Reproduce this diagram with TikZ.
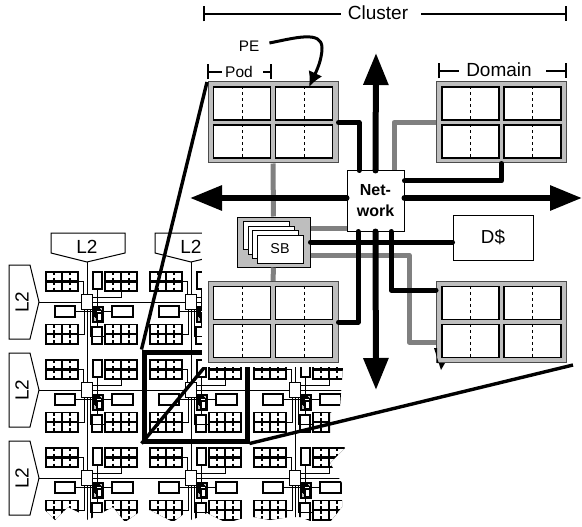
\documentclass[tikz,border=0pt]{standalone}
\usepackage{fontspec}
\setmainfont{Liberation Sans}
\usepackage{tikz}
\usetikzlibrary{
  arrows.meta,
  calc
}
\definecolor{panelgray}{RGB}{190,190,190}
\definecolor{linkgray}{RGB}{128,128,128}

% Small four-cell domain of the tiled chip view
\newcommand{\tiledomain}[3]{%
  \node[tiledom] (#1) at (#2,#3) {};
  \foreach \ox in {-7.9,7.9} \foreach \oy in {-4.9,4.9} {
    \fill[white] ($(#1)+(\ox-7,\oy-3.8)$) rectangle ($(#1)+(\ox+7,\oy+3.8)$);
    \draw[line width=1.3pt, dash pattern=on 2.5pt off 2.6pt on 2.7pt] ($(#1)+(\ox,\oy-3.8)$) -- ($(#1)+(\ox,\oy+3.8)$);
  }%
}

\begin{document}
\begin{tikzpicture}[
  x=1pt, y=-1pt,
  tiledom/.style={fill=black, minimum width=34pt, minimum height=21pt, inner sep=0pt},
  tilebox/.style={draw, fill=white, line width=1.1pt, inner sep=0pt},
  tilewire/.style={line width=1pt},
  l2shape/.style={draw, fill=white, line width=1pt},
  l2label/.style={font=\fontsize{19}{19}\selectfont, inner sep=0pt},
  domainbox/.style={draw=black!70, fill=panelgray, line width=1pt, minimum width=130pt, minimum height=81pt, inner sep=0pt},
  podbox/.style={draw, fill=white, line width=1.4pt, minimum width=57pt, minimum height=33pt, inner sep=0pt},
  netbox/.style={draw, fill=white, line width=1pt, minimum width=57pt, minimum height=60pt, align=center, inner sep=0pt,
    font=\fontsize{16}{21}\selectfont\bfseries},
  sbbox/.style={draw, fill=white, line width=1pt, minimum width=46pt, minimum height=28pt, inner sep=0pt,
    font=\fontsize{14.3}{15}\selectfont},
  graylink/.style={line width=5pt, linkgray, line join=round},
  blacklink/.style={line width=5pt, line cap=round, line join=round},
  bigarrow/.style={line width=6pt, -{Triangle[width=24pt, length=32pt]}},
  zoomline/.style={line width=3.4pt},
  dimline/.style={line width=2pt, {Bar[width=15pt]}-},
  dimlabel/.style={inner sep=0pt}
]
  \useasboundingbox (0,0) rectangle (582,527);

  % Tiled chip view, torn along its right and bottom sides
  \begin{scope}
    \clip (0,220) -- (345,220) -- (343,367) -- (340,407) -- (330,413) -- (330,433) -- (345,448) -- (330,463)
      -- (342,483) -- (342,507) -- (330,522) -- (313,522) -- (300,517) -- (290,517) -- (270,520) -- (253,517)
      -- (240,519) -- (227,523) -- (207,513) -- (192,520) -- (185,513) -- (173,522) -- (150,510) -- (138,513)
      -- (125,522) -- (113,507) -- (88,520) -- (80,513) -- (68,507) -- (55,520) -- (45,510) -- (42,520) -- (0,527) -- cycle;

    % L2 banks on the top and left
    \foreach \cx/\c in {87/a,191/b,295/c} {
      \coordinate (tip\c) at (\cx,262);
      \coordinate (foot\c) at (\cx,527);
      \draw[tilewire] (tip\c) -- (foot\c);
    }
    \foreach \ry/\r in {302/a,390/b,478/c} {
      \coordinate (tipl\r) at (39,\ry);
      \coordinate (end\r) at (346,\ry);
      \draw[tilewire] (tipl\r) -- (end\r);
      \draw[l2shape] (9,\ry-37) -- (30,\ry-37) -- (tipl\r) -- (30,\ry+37) -- (9,\ry+37) -- cycle;
      \node[l2label, rotate=90] (l2left\r) at (22,\ry) {L2};
    }
    \foreach \cx/\c in {87/a,191/b} {
      \draw[l2shape] (\cx-36,233) -- (\cx+38,233) -- (\cx+38,253) -- (tip\c) -- (\cx-36,253) -- cycle;
      \node[l2label] (l2top\c) at (\cx,247) {L2};
    }

    % One tile per crossing
    \foreach \cx/\c in {87/a,191/b,295/c} \foreach \ry/\r in {302/a,390/b,478/c} {
      \begin{scope}[shift={(\cx,\ry)}]
        \tiledomain{dtl\c\r}{-25}{-20.5}
        \tiledomain{dtr\c\r}{34}{-20.5}
        \tiledomain{dbl\c\r}{-25}{32}
        \tiledomain{dbr\c\r}{34}{32}
        \node[tilebox, minimum width=9pt, minimum height=17pt] (ctop\c\r) at (10.5,-21.5) {};
        \node[tilebox, minimum width=10pt, minimum height=17pt] (cbot\c\r) at (10,33.5) {};
        \node[tilebox, minimum width=20pt, minimum height=11pt] (cleft\c\r) at (-22,9.5) {};
        \node[tilebox, minimum width=21pt, minimum height=11pt] (cright\c\r) at (35.5,9.5) {};
        \node[draw, fill=panelgray, line width=1.4pt, minimum width=10pt, minimum height=15pt, inner sep=0pt] (sbg\c\r) at (11,12.5) {};
        \foreach \k in {0,1,2} {
          \draw[line width=1.1pt, fill=white] (7+1.2*\k,6+1.2*\k) rectangle (12+1.2*\k,14+1.2*\k);
        }
        \node[tilebox, minimum width=5pt, minimum height=8pt, line width=1.2pt] (sbf\c\r) at (12.5,15) {};
        \node[tilebox, minimum width=11pt, minimum height=15pt] (n\c\r) at (0,0) {};
        \draw[tilewire] (dtl\c\r.east) -| ([xshift=-3.5pt]n\c\r.north);
        \draw[tilewire] (dtr\c\r.south) |- ([yshift=5pt]n\c\r.east);
        \draw[tilewire] (dbl\c\r.east) -| ([xshift=-3pt]n\c\r.south);
        \draw[tilewire] ([yshift=-2pt]dbr\c\r.west) -| ([xshift=3pt]n\c\r.south);
        \draw[tilewire] (cleft\c\r.east) -- (sbg\c\r.west |- cleft\c\r.east);
        \draw[tilewire] (cright\c\r.west) -- (sbg\c\r.east |- cright\c\r.west);
        \draw[tilewire] (ctop\c\r.south) -- (ctop\c\r.south |- sbg\c\r.north);
        \draw[tilewire] (cbot\c\r.north) -- (cbot\c\r.north |- sbg\c\r.south);
        \draw[tilewire] ([yshift=-5pt]n\c\r.east) -- ([yshift=-5pt]n\c\r.east -| sbg\c\r.north);
      \end{scope}
    }
  \end{scope}

  % Enlarged tile and the lines that open out of it
  \node[draw, line width=5pt, minimum width=103pt, minimum height=89pt, inner sep=0pt] (focusbox) at (195.5,396.5) {};
  \coordinate (mapbl) at (208,363);
  \draw[zoomline] (focusbox.south west) -- (mapbl);

  % White ground of the cluster
  \fill[white] (202,0) rectangle (582,367);

  % Cluster
  \node[domainbox] (domtl) at (273,122.5) {};
  \node[domainbox] (domtr) at (501.5,122.5) {};
  \node[domainbox] (dombl) at (273,322) {};
  \node[domainbox] (dombr) at (501.5,322) {};
  \coordinate (maptl) at (207,82);
  \coordinate (mapbr) at (573,365);
  \draw[zoomline] (focusbox.north west) -- (maptl);
  \draw[zoomline] (focusbox.south east) -- (mapbr);

  \node[netbox] (net) at (375.5,201) {Net-\\work};
  \node[draw, fill=white, line width=1pt, minimum width=80pt, minimum height=45pt, inner sep=0pt,
    font=\fontsize{18.8}{19}\selectfont] (dcache) at (493,237.5) {D\$};
  \coordinate (sbturn) at (409,255);

  % Shared links in gray
  \node[draw, fill=panelgray, line width=1pt, minimum width=73pt, minimum height=50pt, inner sep=0pt] (sbgroup) at (273.5,242) {};
  \draw[graylink] (domtl.south) -- (sbgroup.north);
  \draw[graylink] (sbgroup.south) -- (dombl.north);
  \draw[graylink] (domtr.west) -| ([xshift=18.5pt]net.north);
  \draw[graylink] ([yshift=14pt]sbgroup.east) -- ([yshift=14pt]sbgroup.east -| net.west);
  \draw[graylink] ([yshift=-13pt]sbgroup.east) -- (sbturn) |- ([yshift=-20pt]dombr.west);
  \fill (434,348) -- (437,348) -- (437,363) -- (445,363) -- (441,370) -- cycle;

  % Pods and PEs of each domain
  \foreach \dom in {domtl,domtr,dombl,dombr} {
    \foreach \ox/\oy/\p in {-31/-19/a,31/-19/b,-31/19/c,31/19/d} {
      \node[podbox] (\dom\p) at ($(\dom)+(\ox,\oy)$) {};
      \draw[line width=1pt, dashed] (\dom\p.north) -- (\dom\p.south);
    }
  }

  % Stream buffers
  \foreach \k/\sb in {3/sba,2/sbb,1/sbc} {
    \node[sbbox] (\sb) at (280-4.45*\k,249-4.45*\k) {};
  }
  \node[sbbox] (sbd) at (280,249) {SB};

  % Network links and escape arrows
  \coordinate (uptip) at (376,53);
  \coordinate (downtip) at (376,390);
  \coordinate (lefttip) at (190,198);
  \coordinate (righttip) at (582,198);
  \draw[bigarrow] (net.north) -- (uptip);
  \draw[bigarrow] (net.south) -- (downtip);
  \draw[bigarrow] ([yshift=3pt]net.west) -- (lefttip);
  \draw[bigarrow] ([yshift=3pt]net.east) -- (righttip);
  \draw[blacklink] (domtl.east) -| ([xshift=-16.5pt]net.north);
  \draw[blacklink] (domtr.south) |- ([yshift=20pt]net.east);
  \draw[blacklink] ([xshift=-17.5pt]net.south) |- (dombl.east);
  \draw[blacklink] ([xshift=15.5pt]net.south) |- ([yshift=32pt]dombr.west);
  \draw[blacklink] (sbgroup.east) -- (dcache.west |- sbgroup.east);
  \fill (net.north) circle (3pt);
  \fill ([yshift=3pt]net.west) circle (3pt);
  \fill ([yshift=3pt]net.east) circle (3pt);
  \fill (net.south) circle (3pt);

  % Scale marks
  \node[dimlabel, font=\fontsize{19}{19}\selectfont] (clusterlabel) at (378,13) {Cluster};
  \coordinate (clusterl) at (203,14);
  \coordinate (clusterr) at (567,14);
  \draw[dimline] (clusterl) -- ([xshift=-7pt]clusterlabel.west |- clusterl);
  \draw[dimline] (clusterr) -- ([xshift=13pt]clusterlabel.east |- clusterr);

  \node[dimlabel, font=\fontsize{15.5}{16}\selectfont] (podlabel) at (239,72) {Pod};
  \coordinate (podl) at (207,72);
  \coordinate (podr) at (272,72);
  \draw[dimline] (podl) -- ([xshift=-3pt]podlabel.west);
  \draw[dimline] (podr) -- ([xshift=10pt]podlabel.east);

  \node[dimlabel, font=\fontsize{19}{19}\selectfont] (domainlabel) at (499,70) {Domain};
  \coordinate (domainl) at (438,71);
  \coordinate (domainr) at (567,71);
  \draw[dimline] (domainl) -- ([xshift=-7pt]domainlabel.west |- domainl);
  \draw[dimline] (domainr) -- ([xshift=14pt]domainlabel.east |- domainr);

  \node[dimlabel, font=\fontsize{15.3}{16}\selectfont] (pelabel) at (249,46) {PE};
  \coordinate (petip) at (309,87);
  \draw[line width=3pt, -{Latex[width=15pt, length=15pt]}] ([xshift=10pt,yshift=3pt]pelabel.east)
    .. controls (295,38) and (322,30) .. (322,48) .. controls (322,60) and (316,72) .. (petip);
\end{tikzpicture}
\end{document}
